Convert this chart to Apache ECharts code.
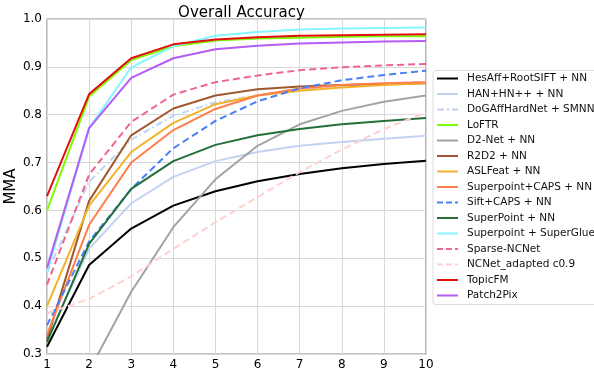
<!DOCTYPE html>
<html lang="en" style="height: 100%">
<head>
  <meta charset="utf-8">
</head>
<body style="height: 100%; margin: 0; background: #fff">
  <div id="container" style="width: 594px; height: 374px"></div>

  <script type="text/javascript" src="https://fastly.jsdelivr.net/npm/echarts@6/dist/echarts.min.js"></script>
  <script type="text/javascript">
    var dom = document.getElementById('container');
    var myChart = echarts.init(dom, null, { renderer: 'canvas' });

// pixel thresholds 1..10
var thresholds = [1, 2, 3, 4, 5, 6, 7, 8, 9, 10];
var yTicks = [0.3, 0.4, 0.5, 0.6, 0.7, 0.8, 0.9, 1.0];

var hesAff      = [0.315, 0.486, 0.562, 0.610, 0.640, 0.661, 0.676, 0.688, 0.697, 0.704];
var hanHn       = [0.330, 0.520, 0.615, 0.670, 0.703, 0.722, 0.735, 0.743, 0.750, 0.756];
var dogAff      = [0.470, 0.660, 0.748, 0.798, 0.826, 0.841, 0.852, 0.860, 0.865, 0.869];
var loftr       = [0.600, 0.838, 0.914, 0.943, 0.955, 0.959, 0.961, 0.963, 0.964, 0.964];
var d2net       = [0.080, 0.265, 0.430, 0.565, 0.665, 0.735, 0.780, 0.808, 0.827, 0.840];
var r2d2        = [0.330, 0.620, 0.757, 0.813, 0.840, 0.853, 0.859, 0.862, 0.864, 0.866];
var aslfeat     = [0.400, 0.610, 0.722, 0.783, 0.822, 0.840, 0.850, 0.857, 0.862, 0.866];
var spCaps      = [0.340, 0.570, 0.700, 0.768, 0.812, 0.840, 0.855, 0.862, 0.866, 0.868];
var siftCaps    = [0.360, 0.535, 0.645, 0.730, 0.787, 0.828, 0.855, 0.872, 0.883, 0.892];
var spNN        = [0.325, 0.530, 0.645, 0.703, 0.737, 0.757, 0.770, 0.780, 0.787, 0.793];
var spGlue      = [0.470, 0.772, 0.899, 0.943, 0.965, 0.973, 0.978, 0.980, 0.981, 0.982];
var sparseNCNet = [0.445, 0.675, 0.785, 0.842, 0.868, 0.882, 0.893, 0.899, 0.903, 0.906];
var ncnetAdapt  = [0.385, 0.415, 0.462, 0.520, 0.575, 0.628, 0.680, 0.727, 0.770, 0.805];
var topicFM     = [0.630, 0.843, 0.918, 0.947, 0.957, 0.962, 0.965, 0.966, 0.967, 0.968];
var patch2pix   = [0.480, 0.772, 0.877, 0.918, 0.937, 0.944, 0.949, 0.951, 0.953, 0.954];

// legend icons: thin bars (solid / dashed / dash-dot)
var solidIcon = 'path://M0,0H21V2H0Z';
var dashIcon = 'path://M0,0H6V2H0Z M9,0H15V2H9Z M18,0H21V2H18Z';
var dashDotIcon = 'path://M0,0H7V2H0Z M10,0H12V2H10Z M15,0H21V2H15Z';

var seriesDefs = [
  ['HesAff+RootSIFT + NN', hesAff, '#000000', 'solid'],
  ['HAN+HN++ + NN', hanHn, '#c3d2f3', 'solid'],
  ['DoGAffHardNet + SMNN', dogAff, '#c3d2f3', [7, 3, 1.5, 3]],
  ['LoFTR', loftr, '#7cfc00', 'solid'],
  ['D2-Net + NN', d2net, '#a3a3a3', 'solid'],
  ['R2D2 + NN', r2d2, '#a0582e', 'solid'],
  ['ASLFeat + NN', aslfeat, '#f2b22a', 'solid'],
  ['Superpoint+CAPS + NN', spCaps, '#ff7f4a', 'solid'],
  ['Sift+CAPS + NN', siftCaps, '#4a80f5', [7, 4]],
  ['SuperPoint + NN', spNN, '#23703a', 'solid'],
  ['Superpoint + SuperGlue', spGlue, '#84f6ff', 'solid'],
  ['Sparse-NCNet', sparseNCNet, '#ee6494', [7, 4]],
  ['NCNet_adapted c0.9', ncnetAdapt, '#ffd0d0', [7, 4]],
  ['TopicFM', topicFM, '#e01010', 'solid'],
  ['Patch2Pix', patch2pix, '#b45cf5', 'solid']
];

var series = seriesDefs.map(function (d) {
  return {
    name: d[0],
    type: 'line',
    data: d[1].map(function (v, i) { return [thresholds[i], v]; }),
    symbol: 'none',
    lineStyle: { color: d[2], width: 2, type: d[3] },
    itemStyle: { color: d[2] },
    clip: true
  };
});

var font = 'DejaVu Sans';

var option = {
  animation: false,
  title: {
    text: 'Overall Accuracy',
    left: 236.5,
    textAlign: 'center',
    top: 1,
    textStyle: { fontFamily: font, fontSize: 15, fontWeight: 'normal', color: '#000' }
  },
  legend: {
    orient: 'vertical',
    left: 433,
    top: 70.5,
    padding: [1, 4, 2, 4],
    itemWidth: 21,
    itemHeight: 14,
    itemGap: 1.5,
    backgroundColor: '#fff',
    borderColor: '#dcdcdc',
    borderWidth: 1,
    borderRadius: 3,
    textStyle: { fontFamily: font, fontSize: 10.5, color: '#111', lineHeight: 14, padding: [0, 0, 0, 4] },
    data: seriesDefs.map(function (d) {
      var icon = d[3] === 'solid' ? solidIcon : (d[3].length === 4 ? dashDotIcon : dashIcon);
      return { name: d[0], icon: icon };
    })
  },
  grid: {
    left: 47, right: 168, top: 19, bottom: 20,
    outerBoundsMode: 'none',
    containLabel: false,
    show: true, borderColor: '#8a8a8a', borderWidth: 1.2
  },
  xAxis: {
    type: 'value', min: 1, max: 10, interval: 1,
    axisLine: { show: false },
    axisTick: { show: false },
    axisLabel: { fontFamily: font, fontSize: 12, color: '#000', margin: 5 },
    splitLine: { lineStyle: { color: '#d8d8d8', width: 1 } }
  },
  yAxis: {
    type: 'value', min: 0.3, max: 1.0, interval: 0.1,
    name: 'MMA', nameLocation: 'middle', nameGap: 28, nameMoveOverlap: false,
    nameTextStyle: { fontFamily: font, fontSize: 15, color: '#000' },
    axisLine: { show: false },
    axisTick: { show: false },
    axisLabel: {
      fontFamily: font, fontSize: 12, color: '#000', margin: 5,
      formatter: function (v) { return v.toFixed(1); }
    },
    splitLine: { lineStyle: { color: '#d8d8d8', width: 1 } }
  },
  series: series
};

myChart.setOption(option);
window.addEventListener('resize', myChart.resize);
  </script>
</body>
</html>
